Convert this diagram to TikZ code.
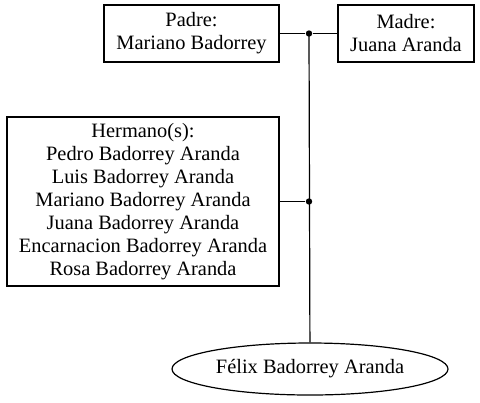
\documentclass[tikz,border=0pt]{standalone}
\usepackage{fontspec}
\setmainfont{Liberation Serif}
\usepackage{tikz}
\usetikzlibrary{shapes.geometric}
\tikzstyle{caja}=[rectangle, draw, inner sep=0pt, align=center, font=\fontsize{10.2}{11.5}\selectfont]
\tikzstyle{punto}=[circle, fill, inner sep=0pt, minimum size=3.2pt]
\newcommand{\caja}{\node[caja]}
\newcommand{\punto}{\node[punto]}

\begin{document}
\begin{tikzpicture}[x=0.5pt, y=-0.5pt, line width=0.6pt]
            \useasboundingbox (0,0) rectangle (480,402);
            \caja (padre) at (191.5,33.5) [minimum width=87.5pt, minimum height=28.5pt]{Padre:\\Mariano Badorrey};
            \caja (madre) at (406,33.5) [minimum width=68pt, minimum height=28.5pt]{Madre:\\Juana Aranda};
            \caja (hermanos) at (143,201.5) [minimum width=136pt, minimum height=84.5pt]{Hermano(s):\\Pedro Badorrey Aranda\\Luis Badorrey Aranda\\Mariano Badorrey Aranda\\Juana Badorrey Aranda\\Encarnacion Badorrey Aranda\\Rosa Badorrey Aranda};
            \caja (felix) at (310,369) [ellipse, minimum width=138pt, minimum height=26pt]{Félix Badorrey Aranda};
            \punto (p1) at (309,33.5) {};
            \punto (p2) at (309,201.5) {};
        \path
                (padre) edge (p1)
                (p1) edge (madre)
                (hermanos) edge (p2)
                (p1.center) edge (felix)
            ;
        \end{tikzpicture}
\end{document}
